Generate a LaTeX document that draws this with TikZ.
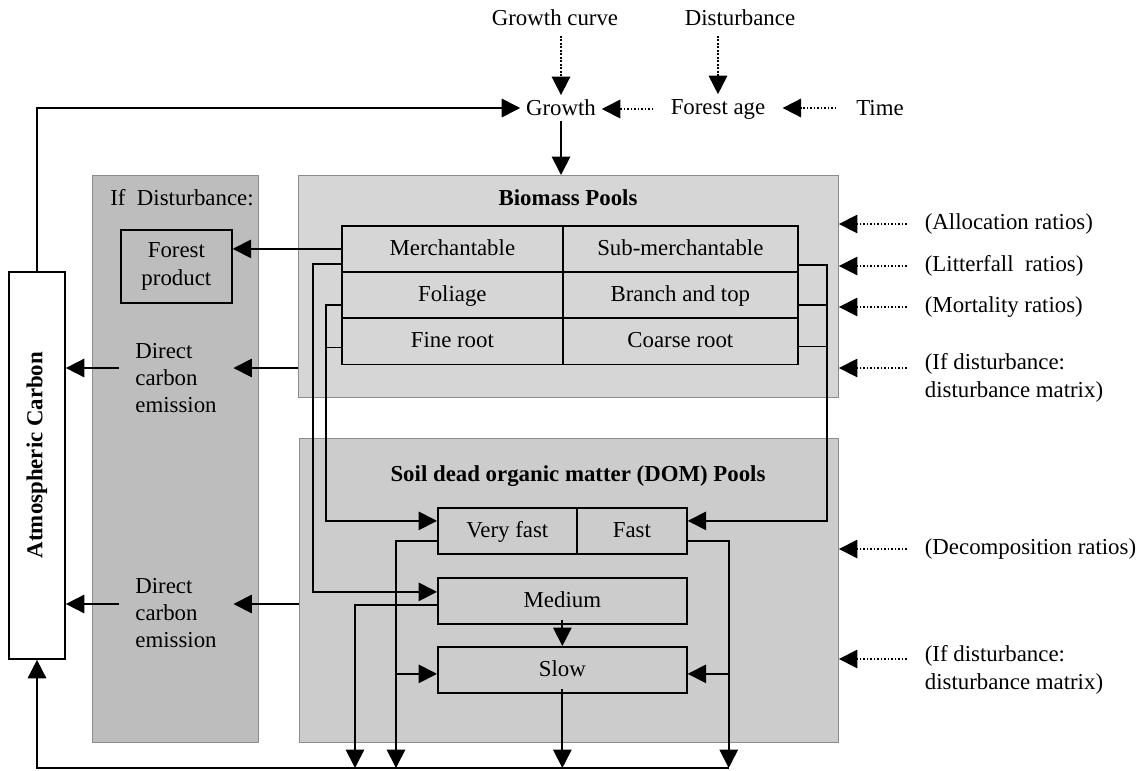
\documentclass[tikz,border=0pt]{standalone}
\usepackage{fontspec}
\setmainfont{Liberation Serif}
\usetikzlibrary{arrows.meta}

\newcommand{\dfont}{\fontsize{13}{15.5}\selectfont}
\definecolor{biomassfill}{HTML}{D6D6D6}
\definecolor{domfill}{HTML}{CCCCCC}
\definecolor{distfill}{HTML}{BDBDBD}
\definecolor{panelline}{HTML}{8C8C8C}

\begin{document}
\begin{tikzpicture}[x=0.02cm, y=-0.02cm, line width=1pt, font=\dfont,
  arr/.style={-{Triangle[length=0.37cm, width=0.37cm]}},
  dotarr/.style={arr, densely dotted},
  panel/.style={draw=panelline, line width=0.6pt, anchor=north west, inner sep=0pt},
  cell/.style={draw, anchor=north west, minimum height=0.92cm, inner sep=0pt, text height=0.96em, text depth=0.22em},
  ratio/.style={anchor=west, align=left, inner xsep=0.34cm, inner ysep=0pt},
  emis/.style={align=left, inner xsep=0.32cm, inner ysep=0pt}]
\useasboundingbox (0,0) rectangle (1144,771);

% Gray panels
\node[panel, fill=distfill, minimum width=3.32cm, minimum height=11.34cm] (distpanel) at (92,175) {};
\node[panel, fill=biomassfill, minimum width=10.8cm, minimum height=4.44cm] (biomass) at (298,175) {};
\node[panel, fill=domfill, minimum width=10.78cm, minimum height=6.08cm] (dom) at (299,438) {};

\node (disttitle) at (182,198) {If\ \ Disturbance:};
\node[font=\dfont\bfseries] (biotitle) at (568,198) {Biomass Pools};
\node[font=\dfont\bfseries] (domtitle) at (578,476) {Soil dead organic matter (DOM) Pools};

% Biomass pools
\node[cell, minimum width=4.42cm] (merch) at (341,225) {Merchantable};
\node[cell, minimum width=4.7cm] (submerch) at (562,225) {Sub-merchantable};
\node[cell, minimum width=4.42cm] (foliage) at (341,271.3) {Foliage};
\node[cell, minimum width=4.7cm] (branch) at (562,271.3) {Branch and top};
\node[cell, minimum width=4.42cm] (fineroot) at (341,317.6) {Fine root};
\node[cell, minimum width=4.7cm] (coarse) at (562,317.6) {Coarse root};

% DOM pools
\node[cell, minimum width=2.78cm] (vfast) at (437,507) {Very fast};
\node[cell, minimum width=2.2cm] (fast) at (576,507) {Fast};
\node[cell, minimum width=4.98cm] (medium) at (437,577) {Medium};
\node[cell, minimum width=4.98cm] (slow) at (437,646) {Slow};

% Disturbance outputs
\node[draw, anchor=north west, inner sep=0pt, minimum width=2.22cm, minimum height=1.46cm, align=center] (fprod) at (120,229) {Forest\\product};
\node[emis] (dce1) at (176,378) {Direct\\carbon\\emission};
\node[emis] (dce2) at (176,613) {Direct\\carbon\\emission};

% Atmosphere
\node[draw, fill=white, minimum width=1.12cm, minimum height=7.74cm, inner sep=0pt] (atm) at (37,465.5) {};
\node[rotate=90, font=\dfont\bfseries] (atmtext) at (37,455) {Atmospheric Carbon};
\coordinate (base) at (37,768);

% Growth drivers
\node (gcurve) at (555,18) {Growth curve};
\node (disturb) at (740,18) {Disturbance};
\node[inner xsep=0.1cm, inner ysep=0.08cm] (growth) at (561,108) {Growth};
\node[inner xsep=0.33cm, inner ysep=0.08cm] (fage) at (718,109) {Forest age};
\node[inner xsep=0.38cm, inner ysep=0.08cm] (time) at (880,108) {Time};

% Parameters on the right
\node[ratio] (alloc) at (907,224) {(Allocation ratios)};
\node[ratio] (litter) at (907,266) {(Litterfall\ \ ratios)};
\node[ratio] (mort) at (907,307) {(Mortality ratios)};
\node[ratio] (distmat1) at (907,378) {(If disturbance:\\disturbance matrix)};
\node[ratio] (decomp) at (907,549) {(Decomposition ratios)};
\node[ratio] (distmat2) at (907,670) {(If disturbance:\\disturbance matrix)};

\draw[dotarr] (alloc.west) -- (alloc.west -| biomass.east);
\draw[dotarr] (litter.west) -- (litter.west -| biomass.east);
\draw[dotarr] (mort.west) -- (mort.west -| biomass.east);
\draw[dotarr] ([yshift=0.2cm]distmat1.west) -- ([yshift=0.2cm]distmat1.west -| biomass.east);
\draw[dotarr] (decomp.west) -- (decomp.west -| dom.east);
\draw[dotarr] ([yshift=0.22cm]distmat2.west) -- ([yshift=0.22cm]distmat2.west -| dom.east);

% Growth
\draw[arr] (atm.north) |- (growth.west);
\draw[dotarr, shorten <=0.06cm] (growth.north |- gcurve.south) -- (growth.north);
\draw[dotarr, shorten <=0.06cm] (fage.north |- disturb.south) -- (fage.north);
\draw[dotarr] (fage.west) -- (fage.west -| growth.east);
\draw[dotarr] (time.west) -- (time.west -| fage.east);
\draw[arr] (growth.south) -- (growth.south |- biomass.north);

% Harvest and direct emissions
\draw[arr] (merch.west) -- (merch.west -| fprod.east);
\draw[arr] ([yshift=0.2cm]dce1.east -| biomass.west) -- ([yshift=0.2cm]dce1.east);
\draw[arr] ([yshift=0.2cm]dce1.west) -- ([yshift=0.2cm]dce1.west -| atm.east);
\draw[arr] ([yshift=0.18cm]dce2.east -| dom.west) -- ([yshift=0.18cm]dce2.east);
\draw[arr] ([yshift=0.18cm]dce2.west) -- ([yshift=0.18cm]dce2.west -| atm.east);

% Litterfall and mortality into DOM
\draw[arr] ([yshift=-0.3cm]merch.west) -- ++(-28,0) |- ([yshift=0.18cm]medium.west);
\draw[arr] ([yshift=-0.2cm]foliage.west) -- ++(-15,0) |- ([yshift=0.2cm]vfast.west);
\draw ([yshift=-0.12cm]fineroot.west) -- ++(-15,0);
\draw[arr] ([yshift=-0.32cm]submerch.east) -- ++(28,0) |- ([yshift=0.2cm]fast.east);
\draw ([yshift=-0.2cm]branch.east) -- ++(28,0);
\draw ([yshift=-0.1cm]coarse.east) -- ++(28,0);

% Decomposition
\draw[arr] ([yshift=-0.2cm]vfast.west) -- ++(-41,0) coordinate (vfturn) -- (vfturn |- base);
\draw[arr] ([yshift=-0.08cm]slow.west -| vfturn) -- ([yshift=-0.08cm]slow.west);
\draw[arr] ([yshift=-0.2cm]fast.east) -- ++(41,0) coordinate (fturn) -- (fturn |- base);
\draw[arr] ([yshift=-0.08cm]slow.east -| fturn) -- ([yshift=-0.08cm]slow.east);
\draw[arr] ([yshift=-0.08cm]medium.west) -- ++(-82,0) coordinate (mturn) -- (mturn |- base);
\draw[arr] ([yshift=0.1cm]medium.south) -- (slow.north);
\draw[arr] ([yshift=0.1cm]slow.south) -- (slow.south |- base);

% Back to the atmosphere
\draw[arr] (fturn |- base) -- (base) -- (atm.south);
\end{tikzpicture}
\end{document}
